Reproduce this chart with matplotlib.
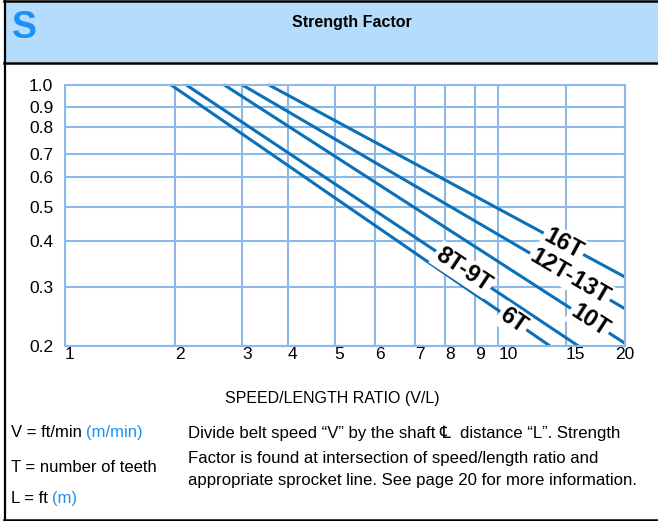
import matplotlib

matplotlib.use("Agg")
import matplotlib.pyplot as plt
import numpy as np
from matplotlib.lines import Line2D
from matplotlib.patches import Rectangle
from matplotlib.scale import FuncScale

W, H = 658, 521

# sprocket lines, each running from SF = 1.0 down to the right
SPROCKETS = ["6T", "8T-9T", "10T", "12T-13T", "16T"]
X_START = [1.95, 2.14, 2.69, 3.0, 3.54]
Y_START = [1.0, 1.0, 1.0, 1.0, 1.0]
X_END = [13.65, 15.96, 20.0, 20.0, 20.0]
Y_END = [0.2, 0.2, 0.204, 0.259, 0.320]

X_TICKS = [1, 2, 3, 4, 5, 6, 7, 8, 9, 10, 15, 20]
Y_TICKS = [0.2, 0.3, 0.4, 0.5, 0.6, 0.7, 0.8, 0.9, 1.0]

# where each ruling sits on the printed chart (pixels); the grid is not a true log grid
X_RULE_PX = [65, 174.7, 242, 288, 334.7, 375, 415, 445, 475, 498.3, 565.7, 624.7]
Y_RULE_PX = [346, 287.3, 240.7, 207, 177, 153.7, 127, 106.7, 84.7]
LABEL_AT = [0.903, 0.707, 0.913, 0.857, 0.828]  # label position along each line

HEADER = "#b3dcfd"
ACCENT = "#1e90f5"
GRID = "#8cb9e6"
LINE = "#0b70b8"
FONT = ["Liberation Sans", "DejaVu Sans"]

plt.rcParams["font.family"] = FONT


def chart_scale(ticks, rule_px, flip=False):
    logs = np.log10(ticks)
    px = -np.asarray(rule_px, float) if flip else np.asarray(rule_px, float)

    def forward(v):
        return np.interp(np.log10(np.clip(v, 1e-6, None)), logs, px)

    def inverse(s):
        return 10 ** np.interp(s, px, logs)

    return forward, inverse


def fx(x):
    return x / W


def fy(y):
    return 1 - y / H


def frame(fig):
    fig.add_artist(Rectangle((fx(5), fy(62)), fx(W), 60 / H, transform=fig.transFigure,
                             facecolor=HEADER, edgecolor="none"))
    for y in (1.2, 62.8, 520):
        fig.add_artist(Line2D([fx(3.7), 1], [fy(y), fy(y)], transform=fig.transFigure,
                              color="black", lw=1.8))
    fig.add_artist(Line2D([fx(4.7), fx(4.7)], [fy(0), fy(521)], transform=fig.transFigure,
                          color="black", lw=1.6))
    fig.text(fx(24), fy(28), "S", color=ACCENT, fontsize=27, fontweight="heavy",
             ha="center", va="center")
    fig.text(fx(352), fy(22), "Strength Factor", fontsize=11.5, fontweight="bold",
             ha="center", va="center")


def notes(fig):
    renderer = fig.canvas.get_renderer()
    fig.text(fx(332), fy(399), "SPEED/LENGTH RATIO (V/L)", fontsize=11.5,
             ha="center", va="center")
    left = [("V = ft/min", "(m/min)", 437), ("T = number of teeth", None, 472),
            ("L = ft", "(m)", 503)]
    for main, metric, y in left:
        t = fig.text(fx(11), fy(y), main, fontsize=12, ha="left", va="baseline")
        if metric:
            x1 = t.get_window_extent(renderer).x1
            fig.text((x1 + 4) / W, fy(y), metric, fontsize=12, color=ACCENT,
                     ha="left", va="baseline")
    para = ["Divide belt speed \u201cV\u201d by the shaft \u2104  distance \u201cL\u201d. Strength",
            "Factor is found at intersection of speed/length ratio and",
            "appropriate sprocket line. See page 20 for more information."]
    for line, y in zip(para, (438, 463, 485)):
        fig.text(fx(188), fy(y), line, fontsize=12.1, ha="left", va="baseline")


def plot():
    fig = plt.figure(figsize=(W / 100, H / 100), dpi=100)
    ax = fig.add_axes([fx(X_RULE_PX[0]), fy(Y_RULE_PX[0]),
                       fx(X_RULE_PX[-1] - X_RULE_PX[0]), (Y_RULE_PX[0] - Y_RULE_PX[-1]) / H])
    ax.set_xscale(FuncScale(ax.xaxis, chart_scale(X_TICKS, X_RULE_PX)))
    ax.set_yscale(FuncScale(ax.yaxis, chart_scale(Y_TICKS, Y_RULE_PX, flip=True)))
    ax.set_xlim(X_TICKS[0], X_TICKS[-1])
    ax.set_ylim(Y_TICKS[0], Y_TICKS[-1])

    ax.set_xticks(X_TICKS)
    ax.set_xticklabels([str(v) for v in X_TICKS], ha="left")
    ax.get_xticklabels()[-1].set_ha("center")
    ax.set_yticks(Y_TICKS)
    ax.set_yticklabels([f"{v:.1f}" for v in Y_TICKS])
    ax.minorticks_off()
    ax.tick_params(length=0, labelsize=12.5)
    ax.tick_params(axis="x", pad=1)
    ax.tick_params(axis="y", pad=8.5)
    ax.grid(True, color=GRID, lw=1.5)
    for s in ax.spines.values():
        s.set_color(GRID)
        s.set_linewidth(1.5)

    for name, x0, y0, x1, y1, t in zip(SPROCKETS, X_START, Y_START, X_END, Y_END, LABEL_AT):
        ax.plot([x0, x1], [y0, y1], color=LINE, lw=2.2, solid_capstyle="butt", clip_on=False)
        p0 = ax.transData.transform((x0, y0))
        p1 = ax.transData.transform((x1, y1))
        angle = np.degrees(np.arctan2(p1[1] - p0[1], p1[0] - p0[0]))
        lx, ly = ax.transData.inverted().transform(p0 + t * (p1 - p0))
        ax.text(lx, ly, name, fontsize=17, fontweight="bold", rotation=angle,
                rotation_mode="anchor", ha="center", va="center", zorder=5,
                bbox=dict(facecolor="white", edgecolor="none", pad=1.5))

    frame(fig)
    notes(fig)
    fig.savefig("out.png", dpi=100)
    plt.close(fig)


if __name__ == "__main__":
    plot()
